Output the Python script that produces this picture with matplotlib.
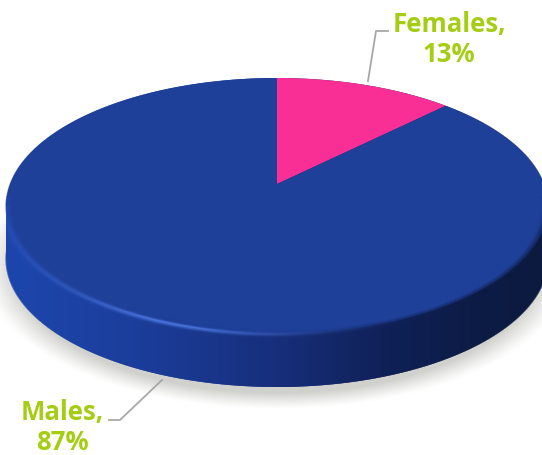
import numpy as np
import matplotlib
matplotlib.use("Agg")
import matplotlib.pyplot as plt
from matplotlib.colors import to_rgb
from matplotlib.patches import Polygon

categories = ["Males", "Females"]
shares = [87, 13]
slice_colors = ["#1f4099", "#f92f96"]
label_x = [62, 449]
label_y = [427.5, 39.5]

WIDTH, HEIGHT = 542, 456
# disc geometry in pixels
CX, CY, RX, RY = 277, 207, 271, 128
APEX_Y = 185
DEPTH = 53
FORESHORTEN = 0.747
LABEL_GREEN = "#a5cd14"
LEADER_GREY = "#a8a8a8"


def rim_point(angle):
    # angle is clockwise from 12 o'clock, squeezed sideways by the 3D tilt
    t = np.arctan2(FORESHORTEN * np.sin(angle), np.cos(angle))
    # keep the parameter running on past 180 degrees without a jump
    t = np.unwrap(t)
    return CX + RX * np.sin(t), CY - RY * np.cos(t)


def wedge(start, end):
    angles = np.linspace(start, end, 300)
    xs, ys = rim_point(angles)
    return np.column_stack([np.r_[CX, xs], np.r_[APEX_Y, ys]])


def ramp(x, stops, colors):
    rgb = np.array([to_rgb(c) for c in colors])
    return np.stack([np.interp(x, stops, rgb[:, i]) for i in range(3)], axis=-1)


fig = plt.figure(figsize=(WIDTH / 100, HEIGHT / 100), dpi=100)
ax = fig.add_axes([0, 0, 1, 1])

xx, yy = np.meshgrid(np.arange(WIDTH) + 0.5, np.arange(HEIGHT) + 0.5)
extent = (0, WIDTH, HEIGHT, 0)

# soft drop shadow under the disc
d_shadow = np.hypot((xx - CX) / (RX + 7), (yy - (CY + DEPTH + 8)) / (RY + 6))
shadow = np.clip((1.06 - d_shadow) / 0.12, 0, 1) ** 1.2
shadow_rgb = 1 - shadow[..., None] * (1 - np.array(to_rgb("#d0d0cc")))
ax.imshow(shadow_rgb, extent=extent, zorder=1, aspect="auto")

# side wall, shaded left to right
wall = ramp(xx, [6, 130, 277, 390, 470, 542],
            ["#1d46ad", "#1b3e9c", "#172f7b", "#0f2056", "#0d1c46", "#0c1a40"])
d_top = np.hypot((xx - CX) / RX, (yy - CY) / RY)
d_bottom = np.hypot((xx - CX) / RX, (yy - (CY + DEPTH)) / RY)

# antialiased outline of the whole solid
edge_top = np.clip((1 - d_top) * RY + 0.5, 0, 1)
edge_bottom = np.clip((1 - d_bottom) * RY + 0.5, 0, 1)
edge_side = np.clip(RX - np.abs(xx - CX) + 0.5, 0, 1) * ((yy >= CY) & (yy <= CY + DEPTH))
solid = np.maximum.reduce([edge_top, edge_bottom, edge_side])
ax.imshow(np.dstack([wall, solid]), extent=extent, zorder=2, aspect="auto")

# top face: slices run clockwise from 12 o'clock, females first
total = sum(shares)
start = 0.0
for i in [1, 0]:
    end = start + 2 * np.pi * shares[i] / total
    ax.add_patch(Polygon(wedge(start, end), closed=True, fc=slice_colors[i], ec="none", zorder=3))
    start = end

# bevel along the front edge: blends face into wall, with a highlight on the left
glow = np.exp(-((d_top - 0.998) / 0.016) ** 2) * np.exp(-((xx - 170) / 130) ** 2) * (yy > CY)
bevel = wall + glow[..., None] * (np.array(to_rgb("#4a74dc")) - wall)
blend = np.clip((d_top - 0.975) / 0.035, 0, 1) * (yy > CY - 10)
blend = np.maximum(blend, glow)
ax.imshow(np.dstack([bevel, blend * solid]), extent=extent, zorder=4, aspect="auto")

ax.set_xlim(0, WIDTH)
ax.set_ylim(HEIGHT, 0)
ax.axis("off")

# leader lines
ax.plot([368, 376, 388], [82, 32, 32], color=LEADER_GREY, lw=1.3, zorder=5)
ax.plot([162, 120, 109], [381, 421, 421], color=LEADER_GREY, lw=1.3, zorder=5)

# labels
for name, share, x, y in zip(categories, shares, label_x, label_y):
    ax.text(x, y, f"{name},\n{share}%", color=LABEL_GREEN, fontsize=18.5, fontweight="bold",
            family="Open Sans", ha="center", va="center", linespacing=1.15, zorder=6)

fig.savefig("out.png", dpi=100)
